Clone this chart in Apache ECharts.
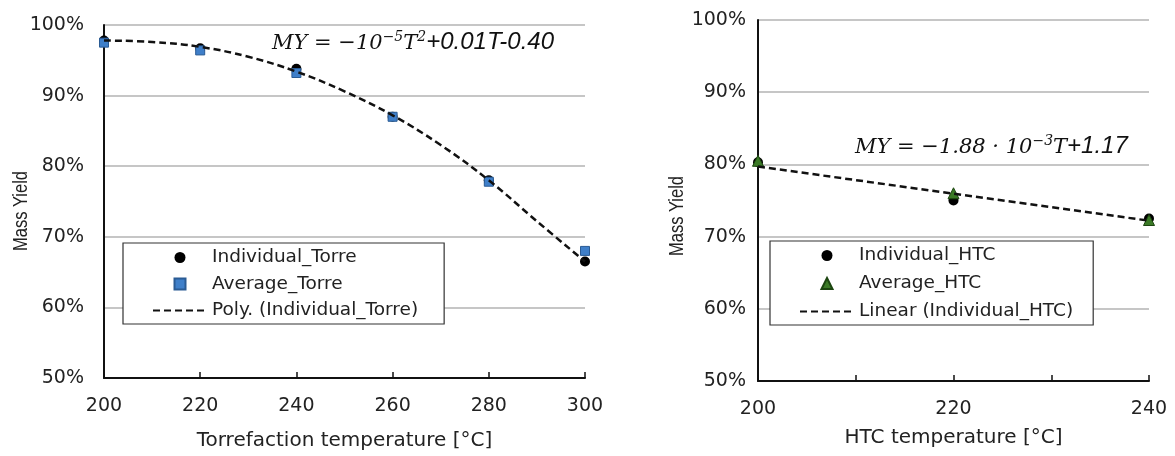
<!DOCTYPE html>
<html>
<head>
<meta charset="utf-8">
<script src="https://cdn.jsdelivr.net/npm/echarts@6/dist/echarts.min.js"></script>
<style>
  html, body { margin: 0; padding: 0; background: #fff; }
  #chart { width: 1175px; height: 456px; }
</style>
</head>
<body>
<div id="chart"></div>
<script>
// torrefaction (left)
const torreT = [200, 220, 240, 260, 280, 300]
const torreIndividual = [97.8, 96.7, 93.8, 87.0, 78.0, 66.5]
const torreAverage = [97.5, 96.4, 93.2, 87.0, 77.8, 68.0]
// dashed poly trend
const torreTrendT = [200, 210, 220, 230, 240, 250, 260, 270, 280, 290, 300]
const torreTrendY = [97.8, 97.6, 96.9, 95.5, 93.4, 90.6, 87.2, 83.0, 78.0, 72.2, 66.5]

// HTC (right)
const htcT = [200, 220, 240]
const htcIndividual = [80.3, 75.0, 72.5]
const htcAverage = [80.5, 76.0, 72.3]
const htcTrendT = [200, 240]
const htcTrendY = [79.7, 72.2]

const yTicks = [50, 60, 70, 80, 90, 100]

const pairs = (xs, ys) => xs.map((x, i) => [x, ys[i]])

const FONT = 'DejaVu Sans'
const txt = '#222'

const yAxisBase = (idx, labelMargin) => ({
  gridIndex: idx,
  type: 'value',
  min: yTicks[0],
  max: yTicks[yTicks.length - 1],
  interval: 10,
  axisLine: { show: true, lineStyle: { color: '#111', width: 2 } },
  axisTick: { show: false },
  axisLabel: { formatter: '{value}%', fontFamily: FONT, fontSize: 19, color: txt, margin: labelMargin },
  splitLine: { show: true, lineStyle: { color: '#b3b3b3', width: 1.5 } }
})

const xAxisBase = (idx, min, max, interval, name, labelStep, nameGap) => ({
  gridIndex: idx,
  type: 'value',
  min, max, interval,
  name,
  nameLocation: 'middle',
  nameGap,
  nameTextStyle: { fontFamily: FONT, fontSize: 20, color: txt },
  axisLine: { show: true, lineStyle: { color: '#111', width: 2 } },
  axisTick: { show: true, inside: true, length: 6, lineStyle: { color: '#111', width: 1.5 } },
  axisLabel: {
    fontFamily: FONT, fontSize: 19, color: txt, margin: 19,
    formatter: v => (v % labelStep === 0 ? String(v) : '')
  },
  splitLine: { show: false }
})

const SQUARE = 'path://M0,0L10,0L10,10L0,10Z'
const TRIANGLE = 'path://M5,0L10,10L0,10Z'

const legendBase = (left, top, padRight, gap, items) => ({
  left, top,
  orient: 'vertical',
  data: items,
  backgroundColor: '#fff',
  borderColor: '#333',
  borderWidth: 1.2,
  padding: [5, padRight, 4, 29],
  itemWidth: 54,
  itemHeight: 11,
  itemGap: gap,
  symbolKeepAspect: true,
  textStyle: { fontFamily: FONT, fontSize: 18.5, color: txt },
  selectedMode: false
})

const yName = (x, y) => ({
  type: 'text', x, y, rotation: Math.PI / 2, scaleY: 1.25,
  style: {
    text: 'Mass Yield', fontFamily: 'Liberation Sans', fontSize: 16.5, fill: txt,
    align: 'center', verticalAlign: 'middle'
  }
})

const eqRich = {
  m: { fontFamily: 'DejaVu Serif', fontStyle: 'italic', fontSize: 21, fill: '#111', verticalAlign: 'bottom' },
  s: { fontFamily: 'DejaVu Serif', fontStyle: 'italic', fontSize: 14, fill: '#111', verticalAlign: 'top', padding: [0, 0, 8, 0] },
  n: { fontFamily: 'Liberation Sans', fontStyle: 'italic', fontSize: 24, fill: '#111', verticalAlign: 'bottom' }
}

const chart = echarts.init(document.getElementById('chart'))
chart.setOption({
  animation: false,
  backgroundColor: '#fff',
  grid: [
    { left: 104, top: 25, width: 481, height: 355 },
    { left: 758, top: 20, width: 391, height: 361 }
  ],
  xAxis: [
    xAxisBase(0, 200, 300, 20, 'Torrefaction temperature [°C]', 20, 53),
    xAxisBase(1, 200, 240, 10, 'HTC temperature [°C]', 20, 47)
  ],
  yAxis: [yAxisBase(0, 20), yAxisBase(1, 12)],
  legend: [
    legendBase(123, 243, 26, 7.5, [
      { name: 'Individual_Torre', icon: 'circle' },
      { name: 'Average_Torre', icon: SQUARE },
      { name: 'Poly. (Individual_Torre)', itemStyle: { opacity: 0 } }
    ]),
    legendBase(770, 241, 20, 9, [
      { name: 'Individual_HTC', icon: 'circle' },
      { name: 'Average_HTC', icon: TRIANGLE },
      { name: 'Linear (Individual_HTC)', itemStyle: { opacity: 0 } }
    ])
  ],
  series: [
    {
      name: 'Individual_Torre', type: 'scatter', xAxisIndex: 0, yAxisIndex: 0,
      data: pairs(torreT, torreIndividual),
      symbol: 'circle', symbolSize: 10,
      itemStyle: { color: '#000', opacity: 1 }, z: 3
    },
    {
      name: 'Average_Torre', type: 'scatter', xAxisIndex: 0, yAxisIndex: 0,
      data: pairs(torreT, torreAverage),
      symbol: 'rect', symbolSize: 9,
      itemStyle: { color: '#3f7fc9', borderColor: '#2a5b94', borderWidth: 1, opacity: 1 }, z: 4
    },
    {
      name: 'Poly. (Individual_Torre)', type: 'line', xAxisIndex: 0, yAxisIndex: 0,
      data: pairs(torreTrendT, torreTrendY),
      smooth: 0.4, symbol: 'none',
      lineStyle: { color: '#111', width: 2.5, type: [7, 4] },
      itemStyle: { color: '#111' }, z: 5
    },
    {
      name: 'Individual_HTC', type: 'scatter', xAxisIndex: 1, yAxisIndex: 1,
      data: pairs(htcT, htcIndividual),
      symbol: 'circle', symbolSize: 10,
      itemStyle: { color: '#000', opacity: 1 }, z: 3
    },
    {
      name: 'Average_HTC', type: 'scatter', xAxisIndex: 1, yAxisIndex: 1,
      data: pairs(htcT, htcAverage),
      symbol: 'triangle', symbolSize: 11,
      itemStyle: { color: '#3b7a26', borderColor: '#1c4510', borderWidth: 1, opacity: 1 }, z: 4
    },
    {
      name: 'Linear (Individual_HTC)', type: 'line', xAxisIndex: 1, yAxisIndex: 1,
      data: pairs(htcTrendT, htcTrendY),
      symbol: 'none',
      lineStyle: { color: '#111', width: 2.5, type: [7, 4] },
      itemStyle: { color: '#111' }, z: 5
    }
  ],
  graphic: [
    yName(21, 211),
    yName(677, 216),
    {
      type: 'text', left: 272, top: 30,
      style: { text: '{m|MY = −10}{s|−5}{m|T}{s|2}{n|+0.01T-0.40}', rich: eqRich }
    },
    {
      type: 'text', left: 855, top: 134,
      style: { text: '{m|MY = −1.88 · 10}{s|−3}{m|T}{n|+1.17}', rich: eqRich }
    }
  ]
})
</script>
</body>
</html>
